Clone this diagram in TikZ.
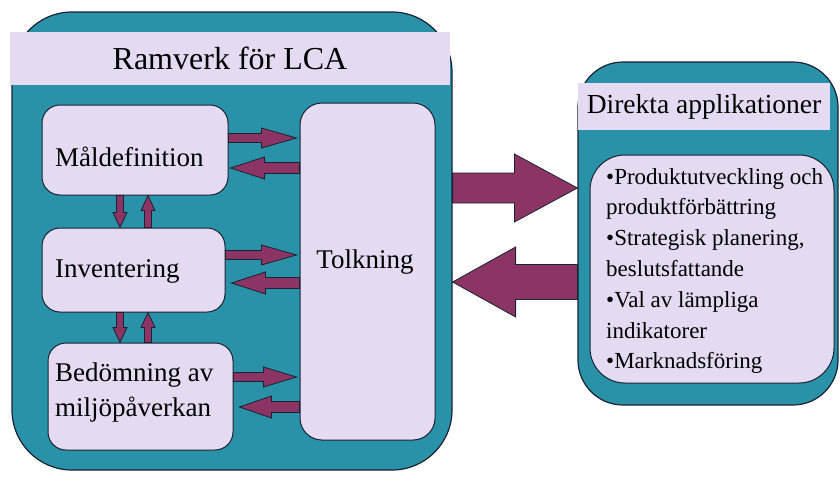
\documentclass[tikz,border=0pt]{standalone}
\usepackage{fontspec}
\setmainfont{Liberation Serif}
\usetikzlibrary{calc}
\definecolor{teal1}{RGB}{42,146,168}
\definecolor{lav}{RGB}{228,218,242}
\definecolor{maroon1}{RGB}{140,52,100}
\definecolor{edge}{RGB}{25,35,50}
\tikzset{
  outerbox/.style={draw=edge, line width=1.2pt, fill=teal1, rectangle, inner sep=0pt},
  banner/.style={fill=lav, rectangle, inner sep=0pt},
  lbox/.style={draw=edge, line width=1pt, fill=lav, rectangle, rounded corners=18pt, inner sep=0pt},
  txt/.style={inner sep=0pt, font=\fontsize{27}{35}\selectfont},
  fat/.style={fill=maroon1, draw=edge, line width=0.8pt, line join=miter},
}
% #1 start, #2 end, #3 half shaft, #4 half head, #5 head length
\newcommand\fatarr[5]{%
  \coordinate (fah) at ($(#2)!#5!(#1)$);
  \path[fat] ($(#1)!#3!90:(#2)$) -- ($(fah)!#3!90:(#2)$) -- ($(fah)!#4!90:(#2)$)
    -- (#2) -- ($(fah)!#4!-90:(#2)$) -- ($(fah)!#3!-90:(#2)$) -- ($(#1)!#3!-90:(#2)$) -- cycle;
}
\begin{document}
\begin{tikzpicture}[x=1pt,y=-1pt]
\useasboundingbox[fill=white] (0,0) rectangle (840,479);
% left frame
\node[outerbox, rounded corners=60pt, minimum width=440pt, minimum height=458pt] (ram) at (232,241) {};
\node[banner, minimum width=440pt, minimum height=53pt, font=\fontsize{32}{36}\selectfont] (ramt) at (230,58.5) {Ramverk för LCA};
% inner boxes
\node[lbox, minimum width=186pt, minimum height=90pt] (mal) at (135,150) {};
\node[lbox, minimum width=183pt, minimum height=84pt] (inv) at (133.5,270) {};
\node[lbox, minimum width=185pt, minimum height=107pt] (bed) at (140.5,396.5) {};
\node[lbox, rounded corners=22pt, minimum width=135pt, minimum height=337pt] (tolk) at (367.5,271.5) {};
\node[txt, anchor=west] (malt) at (55,157) {Måldefinition};
\node[txt, anchor=west] (invt) at (55,271) {Inventering};
\node[txt, anchor=west, align=left] (bedt) at (55,393) {Bedömning av\\miljöpåverkan};
\node[txt] (tolkt) at (365,262) {Tolkning};
% right frame
\node[outerbox, rounded corners=45pt, minimum width=260pt, minimum height=343pt] (dir) at (708,233.5) {};
\node[banner, minimum width=252pt, minimum height=47pt, font=\fontsize{27.5}{32}\selectfont] (dirt) at (704,106.5) {Direkta applikationer};
\node[lbox, rounded corners=35pt, minimum width=244pt, minimum height=228pt] (apps) at (712,269) {};
\node[inner sep=0pt, anchor=west, align=left, font=\fontsize{23}{30.8}\selectfont] (appst) at (606,271)
  {•Produktutveckling och\\produktförbättring\\•Strategisk planering,\\beslutsfattande\\•Val av lämpliga\\indikatorer\\•Marknadsföring};
% horizontal small arrows
\fatarr{[yshift=12pt]mal.east}{$([yshift=12pt]mal.east -| tolk.west)+(-3,0)$}{4.5pt}{10pt}{35pt}
\fatarr{[yshift=-18pt]mal.east -| tolk.west}{$([yshift=-18pt]mal.east)+(2,0)$}{5.5pt}{11pt}{34pt}
\fatarr{[yshift=15pt]inv.east}{$([yshift=15pt]inv.east -| tolk.west)+(-3,0)$}{4.5pt}{10pt}{35pt}
\fatarr{[yshift=-13pt]inv.east -| tolk.west}{$([yshift=-13pt]inv.east)+(6,0)$}{5.5pt}{11pt}{34pt}
\fatarr{[yshift=19.5pt]bed.east}{$([yshift=19.5pt]bed.east -| tolk.west)+(-3,0)$}{4.5pt}{10pt}{33pt}
\fatarr{[yshift=-10.5pt]bed.east -| tolk.west}{$([yshift=-10.5pt]bed.east)+(6,0)$}{5.5pt}{11pt}{32pt}
% vertical small arrows
\fatarr{[xshift=-15pt]mal.south}{[xshift=-15pt]mal.south |- inv.north}{3.5pt}{7pt}{15pt}
\fatarr{[xshift=13pt]mal.south |- inv.north}{[xshift=13pt]mal.south}{3.5pt}{7pt}{15pt}
\fatarr{[xshift=-13.5pt]inv.south}{[xshift=-13.5pt]inv.south |- bed.north}{3.5pt}{7pt}{15pt}
\fatarr{[xshift=14.5pt]inv.south |- bed.north}{[xshift=14.5pt]inv.south}{3.5pt}{7pt}{15pt}
% big arrows
\fatarr{ram.east |- 0,188}{dir.west |- 0,188}{15pt}{34pt}{63pt}
\fatarr{dir.west |- 0,282}{ram.east |- 0,282}{17.5pt}{35pt}{63pt}
\end{tikzpicture}
\end{document}
